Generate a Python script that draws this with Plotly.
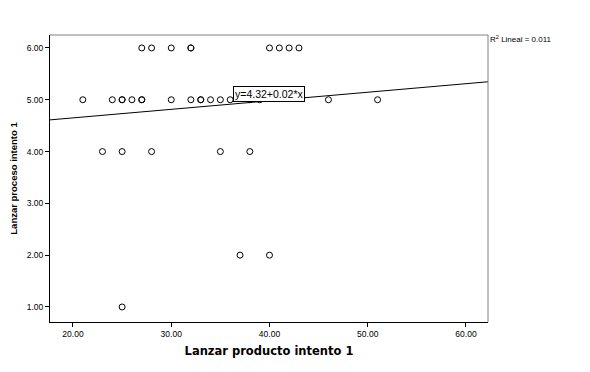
import plotly.graph_objects as go

# Data
x_vals = [27, 28, 30, 32, 32, 40, 41, 42, 43,
          21, 24, 25, 25, 26, 27, 27, 30, 32, 33, 33, 34, 35, 36, 38, 39, 46, 51,
          23, 25, 28, 35, 38,
          37, 40,
          25]
y_vals = [6, 6, 6, 6, 6, 6, 6, 6, 6,
          5, 5, 5, 5, 5, 5, 5, 5, 5, 5, 5, 5, 5, 5, 5, 5, 5, 5,
          4, 4, 4, 4, 4,
          2, 2,
          1]
intercept = 4.32
slope = 0.0165
x_range = [17.66, 62.24]
y_range = [0.71, 6.25]
x_ticks = [20, 30, 40, 50, 60]
y_ticks = [1, 2, 3, 4, 5, 6]

fig = go.Figure()
fig.add_trace(go.Scatter(
    x=x_vals, y=y_vals, mode="markers",
    marker=dict(symbol="circle-open", size=6, color="black", line=dict(width=1)),
    showlegend=False, hoverinfo="skip"))
fig.add_trace(go.Scatter(
    x=x_range, y=[intercept + slope * v for v in x_range], mode="lines",
    line=dict(color="black", width=1), showlegend=False, hoverinfo="skip"))

fig.add_annotation(x=40.0, y=5.12, xref="x", yref="y", text="y=4.32+0.02*x",
                   showarrow=False, bgcolor="white", bordercolor="black", borderwidth=1,
                   borderpad=1, font=dict(family="Liberation Sans", size=10.5, color="black"))
fig.add_annotation(x=1.0, y=1.0, xref="paper", yref="paper", xanchor="left", yanchor="top",
                   text="R<sup>2</sup> Lineal = 0.011", showarrow=False, yshift=3,
                   font=dict(family="Liberation Sans", size=8, color="black"))

# top and right frame in grey
fig.add_shape(type="line", xref="paper", yref="paper", x0=0, x1=1, y0=1, y1=1,
              line=dict(color="#808080", width=1))
fig.add_shape(type="line", xref="paper", yref="paper", x0=1, x1=1, y0=0, y1=1,
              line=dict(color="#808080", width=1))

fig.update_xaxes(range=x_range, tickvals=x_ticks, ticktext=[f"{v:.2f}" for v in x_ticks],
                 showgrid=False, zeroline=False, showline=True, linecolor="black", linewidth=1,
                 ticks="outside", ticklen=4, tickcolor="black", automargin=False,
                 tickfont=dict(family="Liberation Sans", size=8.5, color="black"),
                 title=dict(text="<b>Lanzar producto intento 1</b>", standoff=8,
                            font=dict(family="DejaVu Sans", size=11.5, color="black")))
fig.update_yaxes(range=y_range, tickvals=y_ticks, ticktext=[f"{v:.2f}" for v in y_ticks],
                 showgrid=False, zeroline=False, showline=True, linecolor="black", linewidth=1,
                 ticks="outside", ticklen=4, tickcolor="black", automargin=False,
                 tickfont=dict(family="Liberation Sans", size=8.5, color="black"),
                 title=dict(text="<b>Lanzar proceso intento 1</b>", standoff=23,
                            font=dict(family="Liberation Sans", size=9.5, color="black")))

# the page adds an 8px body margin, so the figure is made 8px smaller
fig.update_layout(width=582, height=364, margin=dict(l=42, r=102, t=27, b=50),
                  plot_bgcolor="white", paper_bgcolor="white")

fig.write_html("out.html")
